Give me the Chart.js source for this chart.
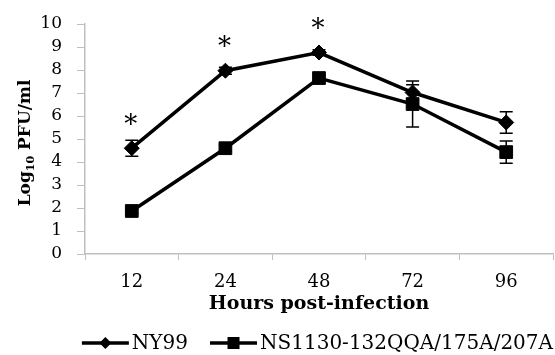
<!DOCTYPE html>
<html>
<head>
<meta charset="utf-8">
<script src="https://cdn.jsdelivr.net/npm/chart.js@4"></script>
<style>
  html, body { margin: 0; padding: 0; background: #fff; }
  #wrap { width: 555px; height: 355px; }
</style>
</head>
<body>
<div id="wrap"><canvas id="chart" width="555" height="355"></canvas></div>
<script>
// data
const hours = ['12', '24', '48', '72', '96'];
const ny99 = [4.6, 7.97, 8.76, 7.02, 5.72];
const ny99Err = [0.35, 0.15, 0.12, 0.34, 0.47];
const mutant = [1.87, 4.6, 7.65, 6.52, 4.43];
const mutantErr = [0.1, 0.12, 0.12, 1.0, 0.48];
const significant = [true, true, true, false, false];
const yTicks = [0, 1, 2, 3, 4, 5, 6, 7, 8, 9, 10];
const seriesNames = ['NY99', 'NS1130-132QQA/175A/207A'];

const serif = '"DejaVu Serif", "Liberation Serif", serif';

function drawMarker(g, kind, x, y) {
  g.beginPath();
  if (kind === 'diamond') {
    g.moveTo(x, y - 6); g.lineTo(x + 6, y); g.lineTo(x, y + 6); g.lineTo(x - 6, y);
  } else {
    g.rect(x - 6, y - 6, 12, 12);
  }
  g.closePath(); g.fill();
}

const errorBars = {
  id: 'errorBars',
  afterDatasetsDraw(chart) {
    const ctx = chart.ctx;
    const y = chart.scales.y;
    const errs = [ny99Err, mutantErr];
    ctx.save();
    ctx.strokeStyle = '#000';
    ctx.lineWidth = 1.5;
    chart.data.datasets.forEach((ds, i) => {
      chart.getDatasetMeta(i).data.forEach((pt, j) => {
        const top = y.getPixelForValue(ds.data[j] + errs[i][j]);
        const bot = y.getPixelForValue(ds.data[j] - errs[i][j]);
        ctx.beginPath();
        ctx.moveTo(pt.x, top); ctx.lineTo(pt.x, bot);
        ctx.moveTo(pt.x - 6.5, top); ctx.lineTo(pt.x + 6.5, top);
        ctx.moveTo(pt.x - 6.5, bot); ctx.lineTo(pt.x + 6.5, bot);
        ctx.stroke();
      });
    });
    // asterisks over significant time points
    ctx.fillStyle = '#000';
    ctx.font = '26px ' + serif;
    ctx.textAlign = 'center';
    ctx.textBaseline = 'middle';
    chart.getDatasetMeta(0).data.forEach((pt, j) => {
      if (significant[j]) ctx.fillText('*', pt.x - 1, pt.y - 22);
    });
    ctx.restore();
  }
};

const extras = {
  id: 'extras',
  afterDraw(chart) {
    const ctx = chart.ctx;
    // y title with subscript
    ctx.save();
    ctx.translate(30, 143);
    ctx.rotate(-Math.PI / 2);
    ctx.fillStyle = '#000';
    ctx.textBaseline = 'alphabetic';
    const big = 'bold 17px ' + serif, small = 'bold 11px ' + serif;
    ctx.font = big; const w1 = ctx.measureText('Log').width;
    ctx.font = small; const w2 = ctx.measureText('10').width;
    ctx.font = big; const w3 = ctx.measureText(' PFU/ml').width;
    let x = -(w1 + w2 + w3) / 2;
    ctx.font = big; ctx.fillText('Log', x, 0); x += w1;
    ctx.font = small; ctx.fillText('10', x, 4); x += w2;
    ctx.font = big; ctx.fillText(' PFU/ml', x, 0);
    ctx.restore();

    // legend
    ctx.save();
    ctx.font = '20px ' + serif;
    ctx.fillStyle = '#000';
    ctx.strokeStyle = '#000';
    ctx.lineWidth = 3.5;
    ctx.textBaseline = 'middle';
    const lineW = 47, gap = 3, itemGap = 22;
    const kinds = ['diamond', 'square'];
    const widths = seriesNames.map(n => ctx.measureText(n).width);
    const total = widths.reduce((a, b) => a + b, 0) + 2 * (lineW + gap) + itemGap;
    const area = chart.chartArea;
    let lx = Math.min((area.left + area.right) / 2 - total / 2, chart.width - 2 - total);
    const ly = 343;
    seriesNames.forEach((name, i) => {
      ctx.beginPath(); ctx.moveTo(lx, ly); ctx.lineTo(lx + lineW, ly); ctx.stroke();
      drawMarker(ctx, kinds[i], lx + lineW / 2, ly);
      ctx.fillText(name, lx + lineW + gap, ly + 1);
      lx += lineW + gap + widths[i] + itemGap;
    });
    ctx.restore();
  }
};

new Chart(document.getElementById('chart'), {
  type: 'line',
  data: {
    labels: hours,
    datasets: [
      {
        label: seriesNames[0], data: ny99,
        borderColor: '#000', backgroundColor: '#000', borderWidth: 3.5,
        pointStyle: 'rectRot', pointRadius: 7.5, pointBorderWidth: 1, tension: 0
      },
      {
        label: seriesNames[1], data: mutant,
        borderColor: '#000', backgroundColor: '#000', borderWidth: 3.5,
        pointStyle: 'rect', pointRadius: 9, pointBorderWidth: 1, tension: 0
      }
    ]
  },
  options: {
    responsive: false,
    animation: false,
    layout: { autoPadding: false, padding: { top: 24, right: 2, left: 0, bottom: 33 } },
    plugins: {
      tooltip: { enabled: false },
      legend: { display: false }
    },
    scales: {
      x: {
        offset: true,
        afterFit(scale) { scale.height = 68; scale.paddingLeft = 0; scale.paddingRight = 0; },
        grid: { display: true, drawOnChartArea: false, offset: true, tickLength: 6, color: '#bfbfbf' },
        border: { color: '#bfbfbf', width: 1.5 },
        ticks: { color: '#000', font: { family: serif, size: 18 }, padding: 12 },
        title: { display: true, text: 'Hours post-infection', color: '#000', font: { family: serif, size: 19, weight: 'bold' }, padding: { top: 0, bottom: 7 } }
      },
      y: {
        min: 0, max: 10,
        afterBuildTicks(scale) { scale.ticks = yTicks.map(v => ({ value: v })); },
        afterFit(scale) { scale.width = 85; scale.paddingTop = 0; scale.paddingBottom = 0; },
        grid: { display: true, drawOnChartArea: false, tickLength: 8, color: '#bfbfbf' },
        border: { color: '#bfbfbf', width: 1.5 },
        ticks: { color: '#000', font: { family: serif, size: 17 }, padding: 15, autoSkip: false }
      }
    }
  },
  plugins: [errorBars, extras]
});
</script>
</body>
</html>
